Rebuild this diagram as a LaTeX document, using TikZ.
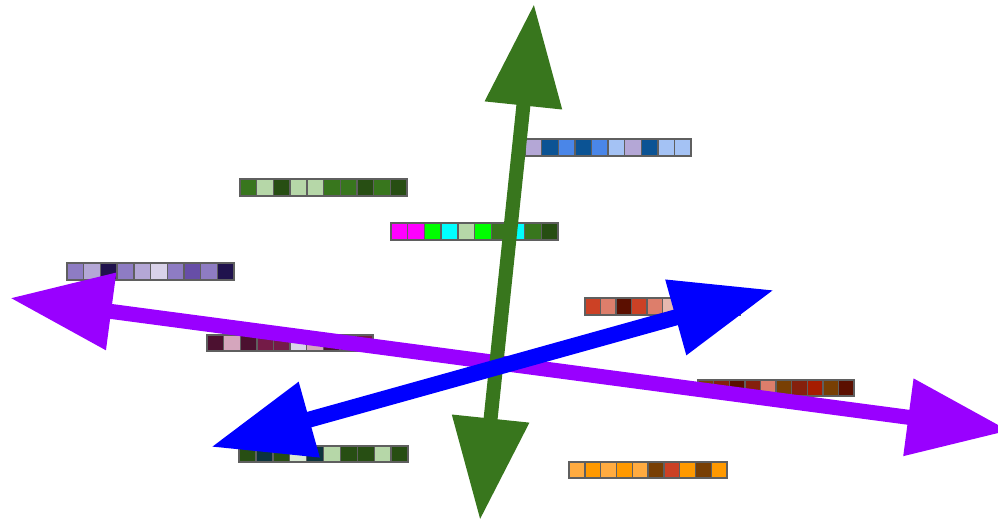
\documentclass[tikz,border=0pt]{standalone}
\usetikzlibrary{arrows.meta}
% palette
\definecolor{gGreen}{HTML}{38761D}
\definecolor{gDarkGreen}{HTML}{274E13}
\definecolor{gLightGreen}{HTML}{B6D7A8}
\definecolor{gPaleGreen}{HTML}{D9EAD3}
\definecolor{gLime}{HTML}{00FF00}
\definecolor{gCyan}{HTML}{00FFFF}
\definecolor{gMagenta}{HTML}{FF00FF}
\definecolor{gTeal}{HTML}{0C343D}
\definecolor{gPurpleA}{HTML}{8E7CC3}
\definecolor{gPurpleB}{HTML}{B4A7D6}
\definecolor{gPurpleC}{HTML}{D9D2E9}
\definecolor{gPurpleD}{HTML}{674EA7}
\definecolor{gPurpleE}{HTML}{20124D}
\definecolor{gBlueDark}{HTML}{0B5394}
\definecolor{gCorn}{HTML}{4A86E8}
\definecolor{gCornLight}{HTML}{A4C2F4}
\definecolor{gRedA}{HTML}{CC4125}
\definecolor{gRedB}{HTML}{DD7E6B}
\definecolor{gRedC}{HTML}{E6B8AF}
\definecolor{gRedD}{HTML}{A61C00}
\definecolor{gRedE}{HTML}{85200C}
\definecolor{gRedF}{HTML}{5B0F00}
\definecolor{gMagB}{HTML}{D5A6BD}
\definecolor{gMagE}{HTML}{741B47}
\definecolor{gMagF}{HTML}{4C1130}
\definecolor{gOrange}{HTML}{FF9900}
\definecolor{gOrangeLight}{HTML}{FFAB40}
\definecolor{gOrangeDark}{HTML}{783F04}
\definecolor{axisPurple}{HTML}{9900FF}
\definecolor{axisBlue}{HTML}{0000FF}
\definecolor{cellBorder}{HTML}{5F5F5F}
% one strip of ten cells: x, y, cell width, height, colours
\newcommand{\swatch}[5]{%
  \foreach \c [count=\i from 0] in {#5} {
    \filldraw[cell, fill=\c] ({#1+\i*#3},#2) rectangle ++(#3,#4);
  }}
\begin{document}
\begin{tikzpicture}[x=1pt, y=-1pt,
    cell/.style={draw=cellBorder, line width=1.4pt},
    axis/.style={line width=15pt, {Triangle[length=102pt, width=74pt]}-{Triangle[length=102pt, width=74pt]}}]
    \clip (0,0) rectangle (998,523);
    % colour strips
    \swatch{525}{139}{16.6}{17}{gPurpleB,gBlueDark,gCorn,gBlueDark,gCorn,gCornLight,gPurpleB,gBlueDark,gCornLight,gCornLight}
    \swatch{240}{179}{16.7}{17}{gGreen,gLightGreen,gDarkGreen,gLightGreen,gLightGreen,gGreen,gGreen,gDarkGreen,gGreen,gDarkGreen}
    \swatch{391}{223}{16.7}{17}{gMagenta,gMagenta,gLime,gCyan,gLightGreen,gLime,gGreen,gCyan,gGreen,gDarkGreen}
    \swatch{67}{263}{16.7}{17}{gPurpleA,gPurpleB,gPurpleE,gPurpleA,gPurpleB,gPurpleC,gPurpleA,gPurpleD,gPurpleA,gPurpleE}
    \swatch{207}{335}{16.6}{16}{gMagF,gMagB,gMagF,gMagE,gMagE,gPurpleC,gMagB,gMagF,gMagE,gMagE}
    \swatch{585}{298}{15.5}{17}{gRedA,gRedB,gRedF,gRedA,gRedB,gRedC,gRedE,gRedA,gRedF,gRedB}
    \swatch{698}{380}{15.6}{16}{gOrangeDark,gRedE,gRedF,gRedE,gRedB,gOrangeDark,gRedE,gRedD,gOrangeDark,gRedF}
    \swatch{239}{446}{16.9}{16}{gDarkGreen,gTeal,gDarkGreen,gPaleGreen,gTeal,gLightGreen,gDarkGreen,gDarkGreen,gLightGreen,gDarkGreen}
    \swatch{569}{462}{15.8}{16}{gOrangeLight,gOrange,gOrangeLight,gOrange,gOrangeLight,gOrangeDark,gRedA,gOrange,gOrangeDark,gOrange}
    % axis ends
    \coordinate (pl) at (10,298);
    \coordinate (pr) at (1009.5,430.7);
    \coordinate (gt) at (534,4);
    \coordinate (gb) at (480,520);
    \coordinate (bt) at (774,290);
    \coordinate (bb) at (211,447);
    \draw[axis, axisPurple] (pl) -- (pr);
    \draw[axis, gGreen, line width=14pt] (gt) -- (gb);
    \draw[axis, axisBlue, line width=16pt] (bt) -- (bb);
\end{tikzpicture}
\end{document}
